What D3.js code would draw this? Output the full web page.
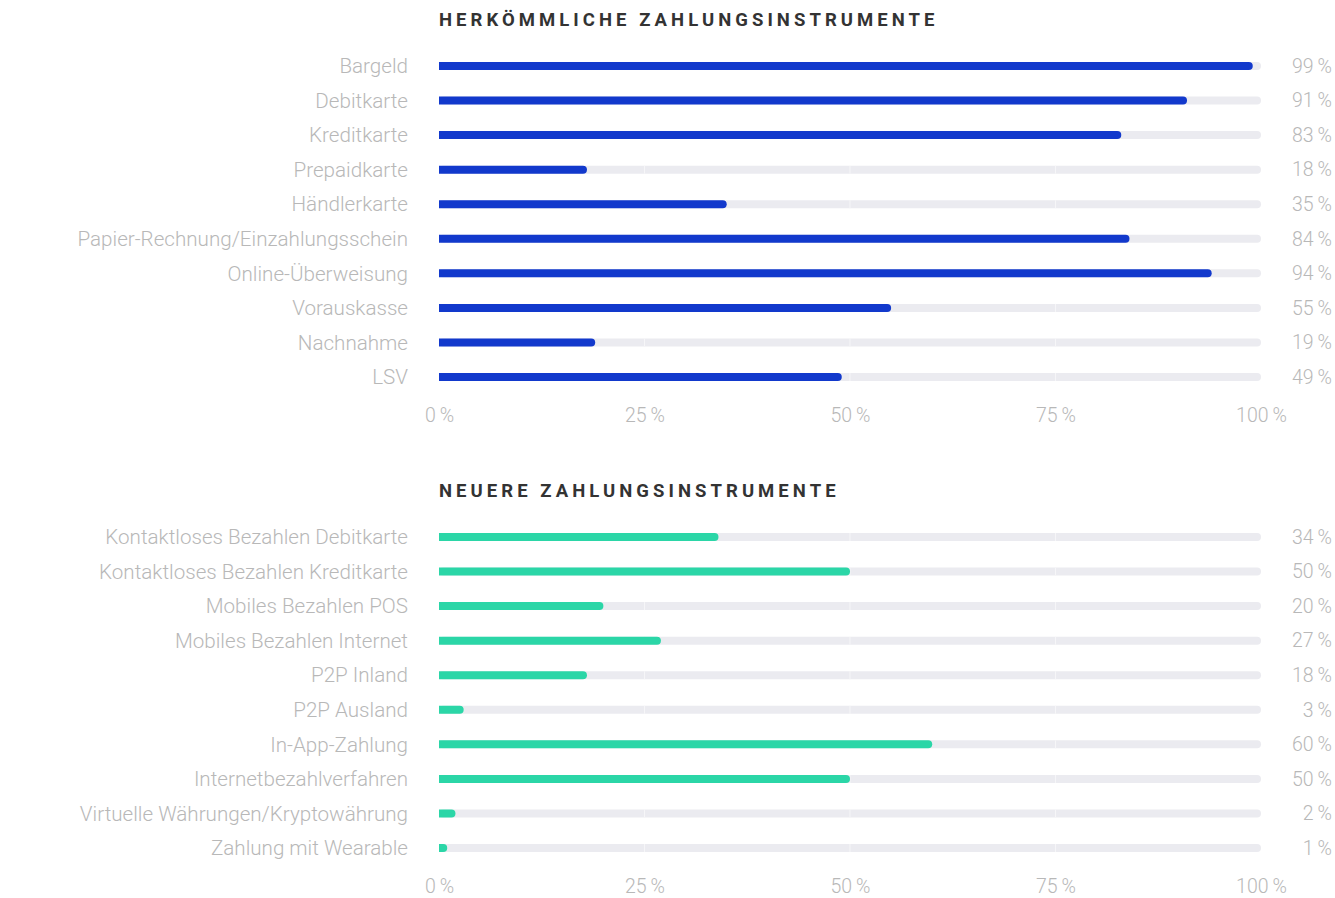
<!DOCTYPE html>
<html>
<head>
<meta charset="utf-8">
<script src="https://cdn.jsdelivr.net/npm/d3@7"></script>
<style>
  body { margin: 0; background: #fff; }
  svg { display: block; }
</style>
</head>
<body>
<svg width="1335" height="898"></svg>
<script>
// data
const titleOld = "HERKÖMMLICHE ZAHLUNGSINSTRUMENTE";
const catsOld = ["Bargeld", "Debitkarte", "Kreditkarte", "Prepaidkarte", "Händlerkarte",
  "Papier-Rechnung/Einzahlungsschein", "Online-Überweisung", "Vorauskasse", "Nachnahme", "LSV"];
const valsOld = [99, 91, 83, 18, 35, 84, 94, 55, 19, 49];

const titleNew = "NEUERE ZAHLUNGSINSTRUMENTE";
const catsNew = ["Kontaktloses Bezahlen Debitkarte", "Kontaktloses Bezahlen Kreditkarte",
  "Mobiles Bezahlen POS", "Mobiles Bezahlen Internet", "P2P Inland", "P2P Ausland",
  "In-App-Zahlung", "Internetbezahlverfahren", "Virtuelle Währungen/Kryptowährung", "Zahlung mit Wearable"];
const valsNew = [34, 50, 20, 27, 18, 3, 60, 50, 2, 1];

const tickVals = [0, 25, 50, 75, 100];

const svg = d3.select("svg");
const x = d3.scaleLinear().domain([0, 100]).range([439, 1261]);
const barH = 8;
const grey = "#b8b8b8";

function panel(top, title, cats, vals, color) {
  const g = svg.append("g");
  const y = d3.scalePoint().domain(cats).range([top + 47, top + 358]);

  g.append("text")
    .attr("x", 439).attr("y", top + 7)
    .attr("font-family", "Roboto, sans-serif")
    .attr("font-weight", 700)
    .attr("font-size", 18.5)
    .attr("letter-spacing", 4.05)
    .attr("fill", "#333")
    .text(title);

  const rows = g.selectAll("g.row").data(cats).enter().append("g").attr("class", "row");

  // track
  rows.append("rect")
    .attr("x", x(0)).attr("y", d => y(d) - barH / 2)
    .attr("width", x(100) - x(0)).attr("height", barH)
    .attr("rx", barH / 2)
    .attr("fill", "#ebebf0");

  // faint gridlines through the track only
  tickVals.slice(1, 4).forEach(t => {
    rows.append("line")
      .attr("x1", x(t)).attr("x2", x(t))
      .attr("y1", d => y(d) - barH / 2).attr("y2", d => y(d) + barH / 2)
      .attr("stroke", "#f6f6f8").attr("stroke-width", 1);
  });

  // bars: square left, rounded right
  rows.append("path")
    .attr("fill", color)
    .attr("d", (d, i) => {
      const x0 = x(0), x1 = x(vals[i]), yc = y(d), r = barH / 2;
      const xe = Math.max(x0, x1 - r);
      return `M${x0},${yc - r}H${xe}A${r},${r} 0 0 1 ${xe},${yc + r}H${x0}Z`;
    });

  rows.append("text")
    .attr("x", 408).attr("y", d => y(d))
    .attr("dy", "0.35em")
    .attr("text-anchor", "end")
    .attr("font-family", "Roboto, sans-serif")
    .attr("font-weight", 300)
    .attr("font-size", 20.6)
    .attr("fill", grey)
    .text(d => d);

  rows.append("text")
    .attr("x", 1332).attr("y", d => y(d))
    .attr("dy", "0.35em")
    .attr("text-anchor", "end")
    .attr("font-family", "Roboto, sans-serif")
    .attr("font-weight", 300)
    .attr("font-size", 19.5)
    .attr("fill", grey)
    .text((d, i) => vals[i] + "\u2009%");

  const axis = d3.axisBottom(x).tickValues(tickVals)
    .tickFormat(d => d + "\u2009%").tickSize(0).tickPadding(0);
  const ax = g.append("g")
    .attr("transform", `translate(0,${top + 396})`)
    .call(axis);
  ax.select(".domain").remove();
  ax.selectAll("text")
    .attr("font-family", "Roboto, sans-serif")
    .attr("font-weight", 300)
    .attr("font-size", 19.5)
    .attr("fill", grey)
    .attr("dy", "0.35em");
}

panel(19, titleOld, catsOld, valsOld, "#1239cc");
panel(490, titleNew, catsNew, valsNew, "#2bd6a7");
</script>
</body>
</html>
